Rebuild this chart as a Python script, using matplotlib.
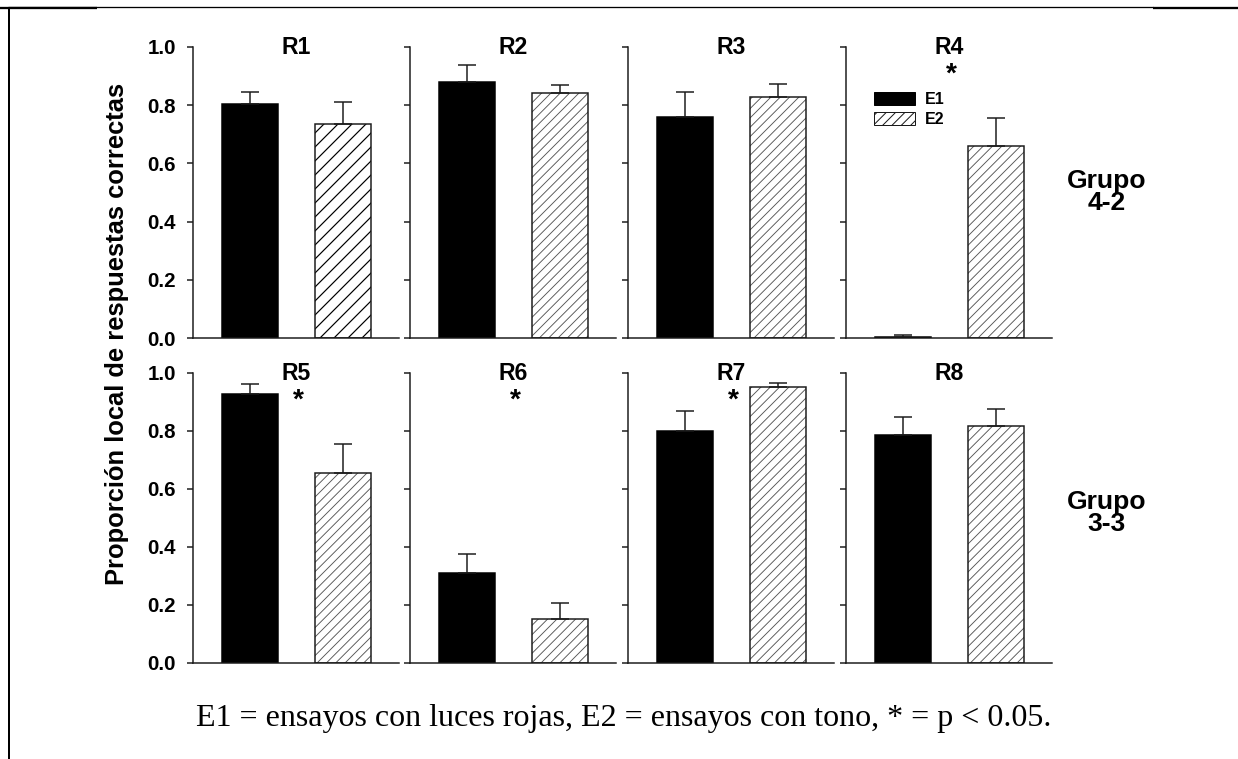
import matplotlib
matplotlib.use('Agg')
import matplotlib.pyplot as plt
from matplotlib.lines import Line2D
from matplotlib.patches import Patch

# ---- data ----
panels  = ['R1', 'R2', 'R3', 'R4', 'R5', 'R6', 'R7', 'R8']
e1_mean = [0.804, 0.880, 0.759, 0.005, 0.927, 0.309, 0.800, 0.787]
e1_err  = [0.040, 0.058, 0.088, 0.005, 0.034, 0.068, 0.069, 0.062]
e2_mean = [0.737, 0.842, 0.828, 0.661, 0.654, 0.151, 0.951, 0.818]
e2_err  = [0.075, 0.027, 0.046, 0.094, 0.101, 0.055, 0.013, 0.059]
signif  = [False, False, False, True, True, True, True, False]
groups  = ['Grupo\n4-2', 'Grupo\n3-3']
legend_labels = ['E1', 'E2']
yticks  = [0.0, 0.2, 0.4, 0.6, 0.8, 1.0]
ylabel  = 'Proporción local de respuestas correctas'
caption = 'E1 = ensayos con luces rojas, E2 = ensayos con tono, * = p < 0.05.'

# ---- sizes: work in pixels, convert to points ----
DPI = 168
W, H = 1238, 759

def pt(px):
    return px * 72 / DPI

def fx(px):
    return px / W

def fy(py):
    return 1 - py / H

plt.rcParams['font.family'] = ['Liberation Sans', 'DejaVu Sans']
plt.rcParams['font.weight'] = 'bold'
plt.rcParams['hatch.linewidth'] = pt(1.0)

fig = plt.figure(figsize=(W / DPI, H / DPI), dpi=DPI)

col_left = [193, 410, 628, 846]     # left spine of each column (px)
rows = [(47, 338), (373, 663)]      # y of 1.0 and 0.0 per row (px)
ax_w = 206
dark = '#1a1a1a'
lw = pt(1.5)

for i, name in enumerate(panels):
    r, c = divmod(i, 4)
    top, bot = rows[r]
    ax = fig.add_axes([fx(col_left[c]), fy(bot), fx(ax_w), (bot - top) / H])

    # E1 solid bar
    ax.bar(0, e1_mean[i], width=0.6, color='black', edgecolor='black', linewidth=lw)
    # E2 hatched bar: hatch layer + outline layer
    if i == 0:
        hatch, hcol, hlw = '////', 'black', 1.2
    else:
        hatch, hcol, hlw = '//////', '#555555', 0.9
    hb = ax.bar(1, e2_mean[i], width=0.6, color='white', edgecolor=hcol,
                linewidth=0, hatch=hatch)
    for p in hb.patches:
        if hasattr(p, 'set_hatch_linewidth'):
            p.set_hatch_linewidth(pt(hlw))
    ax.bar(1, e2_mean[i], width=0.6, fill=False, edgecolor=dark, linewidth=lw)

    # upper error bars only
    ax.errorbar([0, 1], [e1_mean[i], e2_mean[i]],
                yerr=[[0, 0], [e1_err[i], e2_err[i]]],
                fmt='none', ecolor=dark, elinewidth=lw,
                capsize=pt(9), capthick=lw)

    ax.set_xlim(-0.61, 1.60)
    ax.set_ylim(0, 1)
    ax.set_yticks(yticks)
    ax.spines[['top', 'right']].set_visible(False)
    for s in ['left', 'bottom']:
        ax.spines[s].set_linewidth(lw)
        ax.spines[s].set_color(dark)
    ax.tick_params(axis='x', bottom=False, labelbottom=False)
    ax.tick_params(axis='y', direction='out', length=pt(6), width=lw,
                   color=dark, pad=pt(11), labelsize=pt(20.5))
    if c == 0:
        ax.set_yticklabels([f'{t:.1f}' for t in yticks])
    else:
        ax.tick_params(axis='y', labelleft=False)

    ax.text(0.5, 1.0, name, transform=ax.transAxes, ha='center', va='center',
            fontsize=pt(23), fontweight='bold')
    if signif[i]:
        ax.text(0.51, 0.905, '*', transform=ax.transAxes, ha='center',
                va='center', fontsize=pt(28), fontweight='bold')

    if i == 3:
        handles = [Patch(facecolor='black', edgecolor='black', linewidth=pt(1)),
                   Patch(facecolor='white', edgecolor=dark, hatch='//////',
                         linewidth=pt(1))]
        if hasattr(handles[1], 'set_hatch_linewidth'):
            handles[1].set_hatch_linewidth(pt(0.9))
        ax.legend(handles, legend_labels, loc='upper left',
                  bbox_to_anchor=(0.136, 0.845), frameon=False,
                  fontsize=pt(16), handlelength=41 / 16, handleheight=13 / 16,
                  handletextpad=10 / 16, labelspacing=0.3,
                  borderpad=0, borderaxespad=0)

# group labels on the right
for g, yc in zip(groups, [192, 513]):
    fig.text(fx(1107), fy(yc), g, ha='center', va='center',
             fontsize=pt(26.5), fontweight='bold', linespacing=0.9)

# shared y label
fig.text(fx(117), fy(334), ylabel, rotation=90, ha='center', va='center',
         fontsize=pt(25.5), fontweight='bold')

# caption (serif)
fig.text(fx(624), fy(718), caption, ha='center', va='center',
         fontsize=pt(32), fontweight='normal', family='Liberation Serif')

# page frame fragments
frame = [
    ([8, 1153], [7.5, 7.5], 1.3),
    ([0, 97], [8.2, 8.2], 2.3),
    ([1153, 1238], [7.8, 7.8], 2.3),
    ([8.5, 8.5], [8, 759], 2.0),
]
for xs, ys, w in frame:
    fig.add_artist(Line2D([fx(v) for v in xs], [fy(v) for v in ys],
                          transform=fig.transFigure, color='black',
                          linewidth=pt(w), solid_capstyle='butt'))

fig.savefig('out.png', dpi=DPI)
